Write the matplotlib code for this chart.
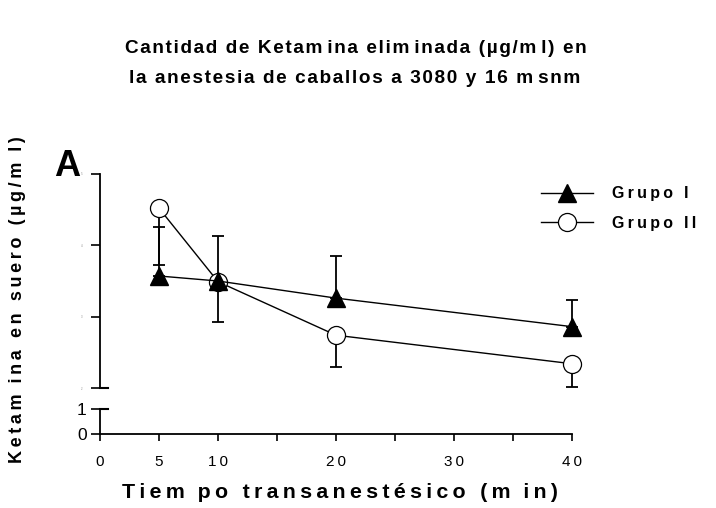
import matplotlib
matplotlib.use("Agg")
import matplotlib.pyplot as plt

plt.rcParams['font.family'] = ['Liberation Sans', 'DejaVu Sans']

tiempo = [5, 10, 20, 40]
grupo1 = [3.57, 3.50, 3.26, 2.86]
grupo1_err = [0.68, 0.63, 0.59, 0.38]
grupo2 = [4.52, 3.49, 2.74, 2.34]
grupo2_err = [0.79, 0.56, 0.45, 0.32]

xticks = [0, 5, 10, 15, 20, 25, 30, 35, 40]
xlabels = ['0', '5', '10', '', '20', '', '30', '', '40']


def spaced(s, gap='\u2009'):
    # wide letter spacing like the original figure
    out = []
    for ch in s:
        out.append(ch)
        if ch == 'm':
            out.append(gap)
    return gap.join(out)


fig = plt.figure(figsize=(7.16, 5.08), dpi=100)
ax = fig.add_axes([0.1397, 0.2362, 0.6592, 0.4213])
axb = fig.add_axes([0.1397, 0.1457, 0.6592, 0.0492])

z = 3
ax.errorbar(tiempo, grupo1, yerr=[[0] * 4, grupo1_err], fmt='none', ecolor='black',
            elinewidth=1.3, capsize=4, capthick=1.3, clip_on=False, zorder=z)
ax.errorbar(tiempo, grupo2, yerr=[grupo2_err, [0] * 4], fmt='none', ecolor='black',
            elinewidth=1.3, capsize=4, capthick=1.3, clip_on=False, zorder=z)
ax.plot(tiempo, grupo1, color='black', lw=1, marker='^', markersize=13,
        markerfacecolor='black', markeredgecolor='black', clip_on=False, zorder=5,
        label=spaced('Grupo I'))
ax.plot(tiempo, grupo2, color='black', lw=1, marker='o', markersize=13,
        markerfacecolor='white', markeredgecolor='black', markeredgewidth=0.9,
        clip_on=False, zorder=4, label=spaced('Grupo II'))

ax.set_xlim(0, 40)
ax.set_ylim(2, 5)
ax.set_yticks([2, 3, 4, 5])
ax.set_yticklabels(['2', '3', '4', '5'], fontsize=2, color='#888888')
ax.tick_params(axis='y', direction='out', length=6.5, width=1.2, pad=6)
ax.set_xticks([])
for s in ['top', 'right', 'bottom']:
    ax.spines[s].set_visible(False)
ax.spines['left'].set_linewidth(1.3)
# break mark at the bottom of the upper axis
ax.plot([0, 0.017], [0, 0], transform=ax.transAxes, color='black', lw=1.5, clip_on=False)

axb.set_xlim(0, 40)
axb.set_ylim(0, 1)
axb.set_yticks([0, 1])
axb.set_yticklabels(['0', '1'], fontsize=12.5)
axb.tick_params(axis='y', direction='out', length=6.5, width=1.2, pad=3)
axb.set_xticks(xticks)
axb.set_xticklabels([spaced(t) for t in xlabels], fontsize=11)
axb.tick_params(axis='x', direction='out', length=5, width=1.2, pad=10)
for s in ['top', 'right']:
    axb.spines[s].set_visible(False)
axb.spines['left'].set_linewidth(1.3)
axb.spines['bottom'].set_linewidth(1.3)
axb.plot([0, 0.017], [1, 1], transform=axb.transAxes, color='black', lw=1.5, clip_on=False)

leg = ax.legend(loc='upper left', bbox_to_anchor=(0.903, 1.01), frameon=False,
                handlelength=3.3, handletextpad=1.2, labelspacing=0.9,
                prop={'weight': 'bold', 'size': 11.5})

fig.text(0.497, 0.905, spaced('Cantidad de Ketamina eliminada (µg/ml) en', '\u200a'),
         ha='center', va='center', fontsize=13.7, fontweight='bold')
fig.text(0.497, 0.846, spaced('la anestesia de caballos a 3080 y 16 msnm', '\u200a'),
         ha='center', va='center', fontsize=13.7, fontweight='bold')
fig.text(0.075, 0.673, 'A', ha='left', va='center', fontsize=26, fontweight='bold')
fig.text(0.025, 0.41, spaced('Ketamina en suero (µg/ml)'), rotation=90,
         ha='center', va='center', fontsize=13, fontweight='bold')
fig.text(0.475, 0.03, spaced('Tiempo transanestésico (min)'),
         ha='center', va='center', fontsize=15.4, fontweight='bold')

fig.savefig('out.png', dpi=100)
